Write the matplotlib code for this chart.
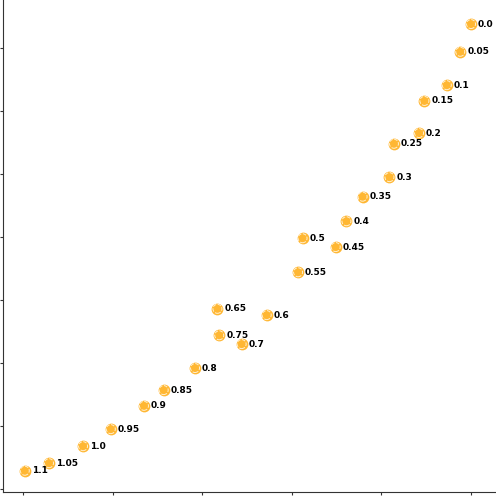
import matplotlib
matplotlib.use("Agg")
import matplotlib.pyplot as plt

# point labels and embedding coordinates
labels = ["0.0", "0.05", "0.1", "0.15", "0.2", "0.25", "0.3", "0.35", "0.4", "0.45",
          "0.5", "0.55", "0.6", "0.65", "0.7", "0.75", "0.8", "0.85", "0.9", "0.95",
          "1.0", "1.05", "1.1"]
xs = [5.00, 4.88, 4.73, 4.48, 4.42, 4.14, 4.09, 3.79, 3.61, 3.49,
      3.12, 3.07, 2.72, 2.17, 2.44, 2.19, 1.92, 1.57, 1.35, 0.98,
      0.67, 0.29, 0.02]
ys = [7.38, 6.94, 6.41, 6.16, 5.65, 5.48, 4.95, 4.64, 4.25, 3.84,
      3.98, 3.44, 2.76, 2.86, 2.30, 2.44, 1.92, 1.57, 1.32, 0.95,
      0.68, 0.41, 0.29]

fig = plt.figure(figsize=(4.96, 4.96), dpi=100)
ax = fig.add_axes([3 / 496, 4 / 496, 493 / 496, 492 / 496])

ax.scatter(xs, ys, s=72, color="orange", alpha=0.8, linewidths=0, zorder=2)
ax.scatter(xs, ys, s=42, facecolors="none", edgecolors="#fff0d0",
           linewidths=0.7, linestyle="--", zorder=3)

for x, y, lab in zip(xs, ys, labels):
    ax.annotate(lab, (x, y), xytext=(5, 0), textcoords="offset points",
                ha="left", va="center", fontsize=6.5, fontweight="bold", color="black")

ax.set_xlim((3 - 23) / 89.6, (496 - 23) / 89.6)
ax.set_ylim((489 - 492) / 63, 489 / 63)
ax.set_xticks(range(0, 6))
ax.set_yticks(range(0, 8))
ax.set_xticklabels([])
ax.set_yticklabels([])
ax.tick_params(length=2.2, width=0.8, colors="#333333")
for side in ["top", "right"]:
    ax.spines[side].set_visible(False)
for side in ["left", "bottom"]:
    ax.spines[side].set_color("#333333")
    ax.spines[side].set_linewidth(0.8)

fig.savefig("out.png", dpi=100)
